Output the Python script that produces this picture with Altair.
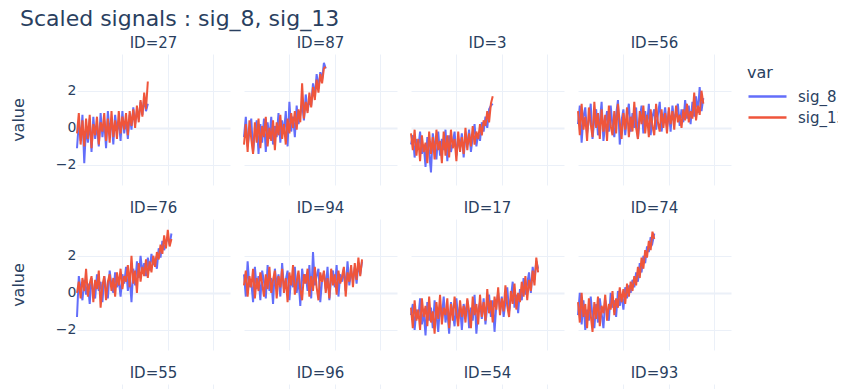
import altair as alt
import pandas as pd

# panel order (4 per row) and colours
panel_ids = ["27", "87", "3", "56", "76", "94", "17", "74", "55", "96", "54", "93"]
var_names = ["sig_8", "sig_13"]
var_colors = ["#636efa", "#ef553b"]
cycle_step = 2

# ---- values (one value every 2 cycles) ----
s8_27 = [-1.1, 0.3, -0.7, 0.7, -1.9, 0.1, -0.8, 0.5, -1.3, 0.6, -0.6, 0.2, -1.0, 0.8, -0.5, 0.4, -1.1, 0.9, -0.3, 0.5,
         -0.9, 0.7, -0.2, 0.4, -0.7, 0.9, -0.3, 0.5, -0.6, 0.7, -0.1, 1.1, 0.2, 0.9, 0.5, 1.4, 0.7, 1.6, 0.9, 1.3]
s13_27 = [-0.3, 0.8, -0.9, 0.4, -1.0, 0.5, -0.6, 0.7, -1.1, 0.2, -0.4, 0.6, -0.9, 0.3, -0.2, 0.8, -0.7, 0.5, -0.8, 0.9,
          -0.5, 0.4, -0.6, 0.9, -0.3, 0.6, -0.1, 0.8, -0.4, 0.9, 0.1, 1.0, 0.0, 1.2, 0.3, 1.5, 0.6, 1.9, 1.0, 2.5]

s8_87 = [-0.5, 0.6, -1.0, -0.2, 0.5, -1.3, -0.3, 0.4, -1.4, 0.2, -0.8, 0.5, -1.3, 0.3, -0.6, 0.6, -0.9, 0.1, -0.5, 0.8,
         -0.8, 0.4, -0.3, 0.9, -1.0, 1.4, -0.2, 0.6, -0.5, 1.2, 0.2, 0.7, 1.3, 0.4, 1.8, 0.9, 1.5, 1.2, 2.4, 1.7,
         2.9, 2.1, 3.0, 2.6, 3.5, 3.2]
s13_87 = [-0.9, 0.2, -1.3, 0.4, -0.6, -1.4, 0.3, -0.8, 0.5, -1.1, 0.1, -0.5, 0.6, -1.0, 0.0, -0.7, 0.4, -1.2, 0.3, -0.4,
          0.7, -0.6, 0.2, -0.9, 0.5, -0.3, 0.8, 0.0, 0.9, -0.1, 1.0, 0.3, 2.4, 0.5, 1.4, 0.8, 1.9, 1.1, 2.2, 1.5,
          2.6, 1.9, 2.9, 2.4, 3.2, 3.3]

s8_3 = [-0.9, -0.4, -1.6, -0.6, -1.1, -0.2, -1.4, -0.9, -2.1, -0.5, -1.3, -2.4, -0.3, -1.0, -1.7, -0.2, -1.5, -0.6, -1.2, -0.1,
        -1.8, -0.4, -1.3, -0.8, -0.2, -1.5, -0.6, -1.1, -0.3, -1.6, -0.4, -0.9, -0.1, -1.3, -0.5, 0.2, -1.0, -0.3, -0.7, 0.3,
        -0.2, 0.6, 0.0, 1.0, 1.2, 1.3]
s13_3 = [-0.3, -1.2, -0.1, -1.5, -0.6, -1.8, -0.4, -1.3, -0.8, -1.9, -0.2, -1.4, -0.5, -1.7, -0.1, -1.2, -0.7, -1.9, -0.2, -1.5,
         -0.4, -1.6, -0.1, -1.1, -0.6, -1.8, -0.2, -1.3, -0.5, -1.4, 0.0, -1.2, -0.3, -1.0, 0.1, -0.9, -0.2, -0.6, 0.2, -0.4,
         0.4, 0.1, 0.9, 0.3, 1.3, 1.7]

s8_56 = [0.2, 1.2, -0.8, 0.6, 1.1, -0.3, 0.4, 1.3, -0.6, 0.5, 1.0, -0.4, 0.3, 1.4, -0.7, 0.2, 0.9, -0.2, 1.2, 0.1,
         -0.5, 0.7, 1.5, -0.9, 0.4, 1.0, -0.4, 0.6, 1.3, -0.2, 0.8, 0.0, 1.1, -0.6, 0.5, 1.2, -0.3, 0.9, 0.1, 1.3,
         -0.4, 0.6, 1.0, -0.1, 0.7, 1.4, -0.2, 0.5, 1.1, 0.0, 0.9, -0.2, 1.2, 0.4, 0.8, 1.3, 0.1, 1.0, 0.3, 1.5,
         0.5, 1.2, 0.2, 1.4, 0.6, 1.7, 0.8, 2.2, 0.9, 1.6]
s13_56 = [0.9, -0.4, 1.3, -0.1, 0.6, -0.7, 1.1, 0.2, -0.5, 1.4, 0.0, 0.8, -0.6, 1.0, -0.2, 0.7, -0.7, 1.2, 0.1, -0.4,
          0.9, -0.3, 1.3, 0.3, -0.6, 0.8, -0.1, 1.1, -0.5, 0.6, -0.2, 1.4, 0.0, -0.6, 0.9, 0.2, 1.2, -0.3, 0.7, -0.5,
          1.0, 0.1, -0.4, 1.3, 0.3, -0.2, 1.0, 0.0, 0.8, -0.3, 1.1, 0.2, 0.9, -0.1, 1.2, 0.3, 0.7, 0.0, 1.0, 0.4,
          1.3, 0.3, 0.9, 0.5, 1.9, 0.4, 1.2, 0.7, 2.0, 1.3]

s8_76 = [-1.3, 0.9, 0.2, -0.4, 0.7, -0.1, 0.5, -0.6, 0.8, 0.0, -0.3, 1.0, 0.1, 0.6, -0.5, 0.9, 0.2, -0.3, 1.2, 0.4,
         0.0, 1.1, 0.3, 0.7, -0.2, 1.0, 0.5, 1.4, 0.1, 0.9, -0.5, 1.3, 0.4, 1.7, 0.8, 2.0, 1.1, 1.6, 0.9, 1.9,
         1.2, 2.1, 1.5, 1.8, 1.3, 2.4, 1.9, 2.8, 2.3, 2.7, 3.0, 2.6, 3.2]
s13_76 = [0.0, 0.6, -0.3, 0.8, 0.1, 1.3, -0.2, 0.5, 0.9, -0.5, 0.7, 0.2, 1.2, -0.8, 0.4, 0.9, -0.4, 0.6, 1.0, 0.1,
          0.8, -0.2, 1.1, 0.4, 1.3, 0.2, 0.9, 0.6, 1.5, 0.3, 2.0, 0.5, 1.2, 0.0, 1.6, 0.6, 1.4, 0.9, 1.8, 0.8,
          1.7, 1.1, 2.0, 1.4, 2.2, 1.8, 2.6, 2.1, 3.1, 2.4, 3.4, 2.5, 2.9]

s8_94 = [1.0, -0.2, 1.7, 0.3, 0.6, -0.5, 1.4, 0.2, 0.9, -0.4, 1.2, 0.6, -0.3, 1.5, 0.1, 0.8, -0.6, 1.3, 0.4, 1.0,
         -0.2, 1.6, 0.2, 0.7, 1.2, -0.4, 0.9, 0.3, 1.4, 0.0, 0.8, -0.7, 1.3, 0.5, 1.0, 0.1, 1.5, -0.3, 2.2, 0.4,
         0.9, 1.3, -0.5, 0.7, 1.1, 0.2, 1.4, -0.4, 0.8, 1.2, 0.3, 1.5, -0.2, 1.0, 0.6, 1.3, 0.1, 1.7, 0.4, 1.2,
         0.7, 1.4, 0.5, 1.6, 1.0, 1.7]
s13_94 = [0.4, 1.2, -0.2, 0.9, 0.3, 1.3, -0.3, 0.8, 0.1, 1.1, 0.5, -0.2, 1.0, 0.2, 1.4, 0.0, 0.7, 1.2, -0.3, 0.9,
          0.3, 1.3, 0.0, 0.8, -0.5, 1.1, 0.4, 1.5, -0.1, 0.6, 1.2, 0.2, -0.4, 1.0, 0.5, 1.3, -0.2, 0.9, 0.1, 1.4,
          0.3, -0.4, 1.1, 0.6, 1.2, 0.0, 0.8, -0.3, 1.3, 0.4, 1.0, -0.1, 1.2, 0.5, 0.9, 1.4, -0.2, 1.1, 0.6, 1.5,
          0.3, 1.6, 0.7, 1.9, 0.9, 1.8]

s8_17 = [-1.2, -0.6, -2.0, -0.9, -1.4, -0.3, -1.7, -1.0, -2.3, -0.5, -1.5, -0.8, -1.9, -0.4, -1.2, -2.1, -0.6, -1.3, -0.2, -1.6,
         -0.9, -2.2, -0.5, -1.1, -1.8, -0.3, -1.4, -0.7, -2.0, -0.6, -1.2, -0.4, -1.9, -0.8, -1.5, -0.1, -2.2, -0.9, -0.5, -1.4,
         -0.3, -1.7, -0.7, -0.1, -1.3, -0.4, -2.1, -0.6, 0.0, -1.0, -0.2, -1.3, -0.5, 0.3, -1.0, -0.3, 0.6, -0.8, -0.1, -1.1,
         0.2, -0.4, 0.8, -0.1, 0.5, 1.1, 0.0, 1.4, 0.7, 1.7, 1.3]
s13_17 = [-0.8, -1.9, -0.4, -1.5, -0.9, -2.0, -0.3, -1.3, -0.7, -1.8, -0.2, -1.6, -1.0, -2.2, -0.5, -1.4, -0.1, -1.7, -0.8, -1.2,
          -0.3, -1.9, -0.6, -1.5, -0.2, -1.1, -1.8, -0.4, -1.3, -0.7, -1.6, -0.3, -1.0, -1.9, -0.2, -1.2, -0.6, -1.7, -0.1, -1.3,
          -0.5, -1.5, 0.2, -1.1, -0.4, -1.6, -0.2, -0.9, 0.3, -1.2, -0.3, -1.0, 0.4, -0.7, -1.3, 0.1, -0.6, 0.5, -0.9, 0.0,
          -0.5, 0.6, -0.2, 0.9, -0.4, 0.7, 0.1, 1.2, 0.4, 1.9, 1.1]

s8_74 = [-1.2, 0.0, -1.7, -0.4, -2.0, -0.9, -1.5, -0.2, -1.3, -1.9, -0.6, -1.6, -0.3, -1.1, -1.9, -0.4, -1.0, -1.5, 0.0, -0.8,
         -0.4, -1.3, 0.1, -0.7, -0.1, -0.9, 0.3, -0.3, 0.4, 0.0, 0.7, 0.3, 1.1, 0.6, 1.6, 1.1, 2.0, 1.6, 2.5, 2.2,
         3.0, 2.7, 3.2]
s13_74 = [-0.5, -1.6, 0.0, -1.3, -0.6, -1.9, -0.3, -1.2, -2.1, -0.5, -1.4, -0.2, -1.8, -0.7, -1.1, -0.1, -1.5, -0.6, -0.9, 0.1,
          -1.2, -0.3, -0.8, 0.3, -0.5, 0.2, -0.6, 0.5, -0.2, 0.6, 0.1, 0.9, 0.4, 1.4, 0.8, 1.9, 1.3, 2.3, 1.9, 2.8,
          2.3, 3.3, 2.9]

# third row: only the panel titles are inside the picture
s8_55 = [0.2, -0.5, 0.4, -0.3]
s13_55 = [-0.1, 0.3, -0.4, 0.2]
s8_96 = [0.1, -0.4, 0.5, -0.2]
s13_96 = [-0.2, 0.4, -0.3, 0.1]
s8_54 = [-0.3, 0.2, -0.6, 0.3]
s13_54 = [0.1, -0.5, 0.2, -0.2]
s8_93 = [0.3, -0.2, 0.6, -0.1]
s13_93 = [-0.1, 0.4, -0.2, 0.3]

series = {
    "27": (s8_27, s13_27), "87": (s8_87, s13_87), "3": (s8_3, s13_3), "56": (s8_56, s13_56),
    "76": (s8_76, s13_76), "94": (s8_94, s13_94), "17": (s8_17, s13_17), "74": (s8_74, s13_74),
    "55": (s8_55, s13_55), "96": (s8_96, s13_96), "54": (s8_54, s13_54), "93": (s8_93, s13_93),
}

rows = []
for k, vname in enumerate(var_names):
    for pid in panel_ids:
        vals = series[pid][k]
        for i, v in enumerate(vals):
            rows.append({"panel": pid, "cycle": i * cycle_step, "value": v, "var": vname})
df = pd.DataFrame(rows)

text_color = "#2a3f5f"
grid_color = "#ebf0f8"
font = "DejaVu Sans"

x_enc = alt.X("cycle:Q", scale=alt.Scale(domain=[0, 168.5], nice=False, zero=False),
              axis=alt.Axis(title=None, labels=False, ticks=False, domain=False, values=[50, 100, 150],
                            grid=True, gridColor=grid_color, minExtent=0))
color_enc = alt.Color("var:N", scale=alt.Scale(domain=var_names, range=var_colors),
                      legend=alt.Legend(title="var", orient="none", legendX=670, legendY=11,
                                        symbolType="M-1,0H2.8", symbolSize=400, symbolStrokeWidth=2.5,
                                        titleFontSize=16, labelFontSize=15, titleFont=font, labelFont=font,
                                        titleColor=text_color, labelColor=text_color, titleFontWeight="normal",
                                        labelOffset=28, rowPadding=1, titlePadding=4))


def make_panel(pid, first_col):
    y_axis = alt.Axis(title="value" if first_col else None, labels=first_col, values=[-2, 0, 2],
                      ticks=False, domain=False, grid=True, gridColor=grid_color,
                      gridWidth=alt.ExprRef("datum.value === 0 ? 2 : 1"), minExtent=0,
                      labelPadding=1, titlePadding=29, labelFontSize=14, titleFontSize=16,
                      labelColor=text_color, titleColor=text_color, titleFontWeight="normal",
                      labelFont=font, titleFont=font)
    y_enc = alt.Y("value:Q", scale=alt.Scale(domain=[-3.08, 3.98], nice=False, zero=False), axis=y_axis)
    layers = []
    for v in var_names:  # sig_8 first, sig_13 drawn on top
        layers.append(
            alt.Chart().mark_line(strokeWidth=2).encode(x=x_enc, y=y_enc, color=color_enc)
            .transform_filter(alt.FieldEqualPredicate(field="panel", equal=pid))
            .transform_filter(alt.FieldEqualPredicate(field="var", equal=v))
        )
    return alt.layer(*layers, data=df).properties(
        width=153, height=131,
        title=alt.TitleParams("ID=" + pid, fontSize=15, font=font, fontWeight="normal", color=text_color,
                              anchor="middle", baseline="alphabetic", offset=-9),
    )


grid_rows = []
for r in range(3):
    grid_rows.append(alt.hconcat(*[make_panel(panel_ids[r * 4 + c], c == 0) for c in range(4)], spacing=10))

chart = alt.vconcat(*grid_rows, spacing=16).properties(
    title=alt.TitleParams("Scaled signals : sig_8, sig_13", anchor="start", frame="group", fontSize=22,
                          font=font, fontWeight="normal", color=text_color, dx=-57, offset=-12,
                          baseline="alphabetic"),
    autosize=alt.AutoSizeParams(type="none"),
    padding={"left": 69, "top": 46, "right": 761, "bottom": 335},
).configure_view(stroke=None)

chart.save("out.html", embed_options={"renderer": "svg", "actions": False})
